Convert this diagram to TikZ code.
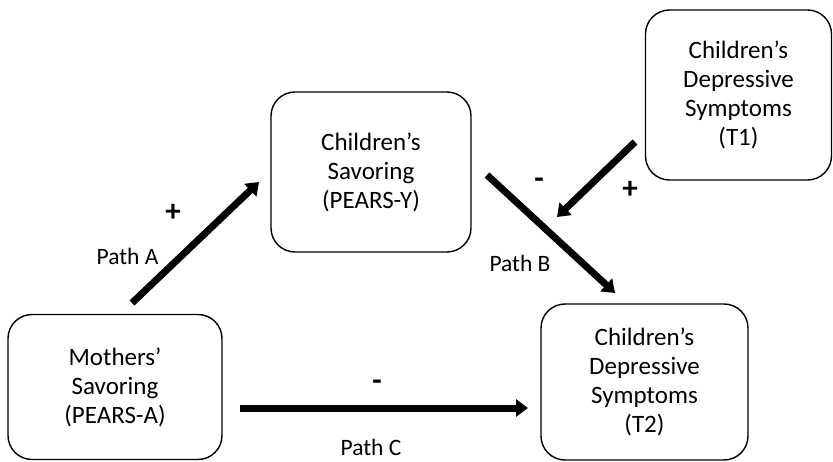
\documentclass[tikz,border=0pt]{standalone}
\usepackage{fontspec}
\setmainfont{Carlito}
\usetikzlibrary{arrows.meta}
\begin{document}
\begin{tikzpicture}[x=1pt,y=1pt,
  box/.style={draw, line width=1.4pt, rounded corners=24pt, align=center,
    font=\fontsize{25}{29}\selectfont, inner sep=0pt},
  conn/.style={line width=7pt, -{Triangle[length=12pt,width=17pt]}},
  lab/.style={font=\fontsize{23.5}{26}\selectfont},
  sign/.style={font=\bfseries\fontsize{31}{33}\selectfont}]
\useasboundingbox (0,0) rectangle (833,461);
\node[box, minimum width=214pt, minimum height=145pt] (m) at (115,74) {Mothers’\\Savoring\\(PEARS-A)};
\node[box, minimum width=200pt, minimum height=160pt] (s) at (371,289) {Children’s\\Savoring\\(PEARS-Y)};
\node[box, minimum width=186pt, minimum height=170pt] (t1) at (738.5,366) {Children’s\\Depressive\\Symptoms\\(T1)};
\node[box, minimum width=207pt, minimum height=156pt] (t2) at (644.5,79) {Children’s\\Depressive\\Symptoms\\(T2)};
\coordinate (a1) at (132,158);
\coordinate (a2) at (259,279);
\coordinate (b1) at (487,286);
\coordinate (b2) at (615,168);
\coordinate (d1) at (635,319);
\coordinate (d2) at (557,244);
\coordinate (c1) at (240,53);
\coordinate (c2) at (528,53);
\draw[conn] (a1) -- (a2);
\draw[conn] (b1) -- (b2);
\draw[conn] (d1) -- (d2);
\draw[conn] (c1) -- (c2);
\node[sign] (pa) at (173,248) {+};
\node[lab] (la) at (127.5,205) {Path A};
\node[sign] (mb) at (539,278) {-};
\node[sign] (pd) at (630,271) {+};
\node[lab] (lb) at (520,198) {Path B};
\node[sign] (mc) at (377,76) {-};
\node[lab] (lc) at (371,14) {Path C};
\end{tikzpicture}
\end{document}
